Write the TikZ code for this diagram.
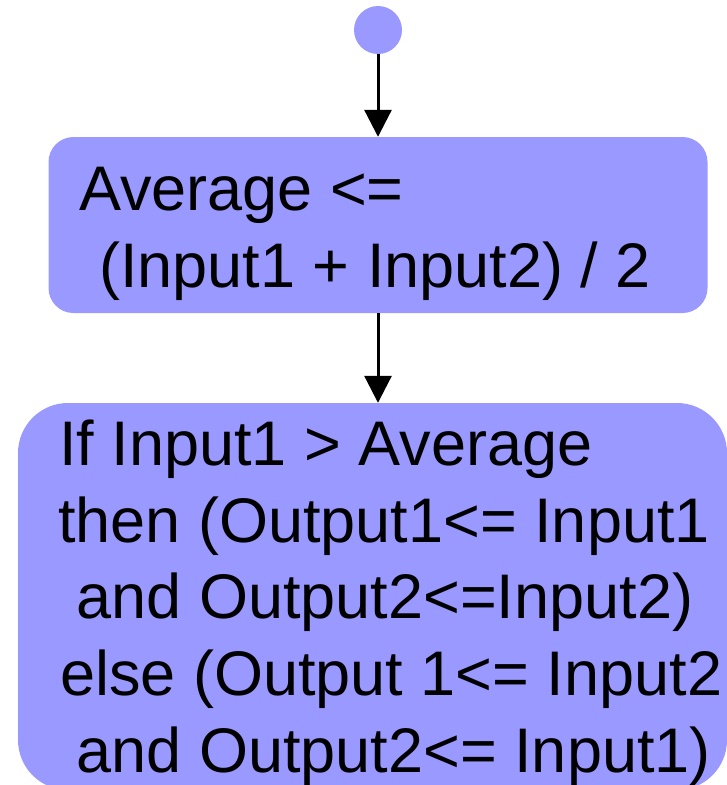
\documentclass[tikz,border=0pt]{standalone}
\usepackage{fontspec}
\setmainfont{Liberation Sans}
\usetikzlibrary{arrows.meta}
\definecolor{boxblue}{RGB}{153,153,255}
\begin{document}
\begin{tikzpicture}[x=1pt,y=-1pt,
  box/.style={fill=boxblue, rounded corners=#1, inner sep=0pt, draw=none, rectangle},
  txt/.style={anchor=base west, inner sep=0pt, font=\fontsize{63}{77}\selectfont},
  conn/.style={line width=3pt, -{Triangle[length=27pt,width=27pt]}}]
\useasboundingbox (0,0) rectangle (727,785);
\node[circle, fill=boxblue, minimum size=48pt, inner sep=0pt] (start) at (378,30) {};
\node[box=25pt, minimum width=659pt, minimum height=176pt] (avg) at (378,225) {};
\node[box=50pt, minimum width=709pt, minimum height=387pt] (cmp) at (372.5,596.5) {};
\node[txt] (a1) at (79,210) {Average <=};
\node[txt] (a2) at (99,287) {(Input1 + Input2) / 2};
\node[txt] (c1) at (59,465) {If Input1 > Average};
\node[txt] (c2) at (58,542) {then (Output1<= Input1};
\node[txt] (c3) at (76.5,618) {and Output2<=Input2)};
\node[txt] (c4) at (60,695) {else (Output 1<= Input2};
\node[txt] (c5) at (76.5,772) {and Output2<= Input1)};
\draw[conn] (start.south) -- (avg.north);
\draw[conn] (avg.south) -- (avg.south |- cmp.north);
\end{tikzpicture}
\end{document}
